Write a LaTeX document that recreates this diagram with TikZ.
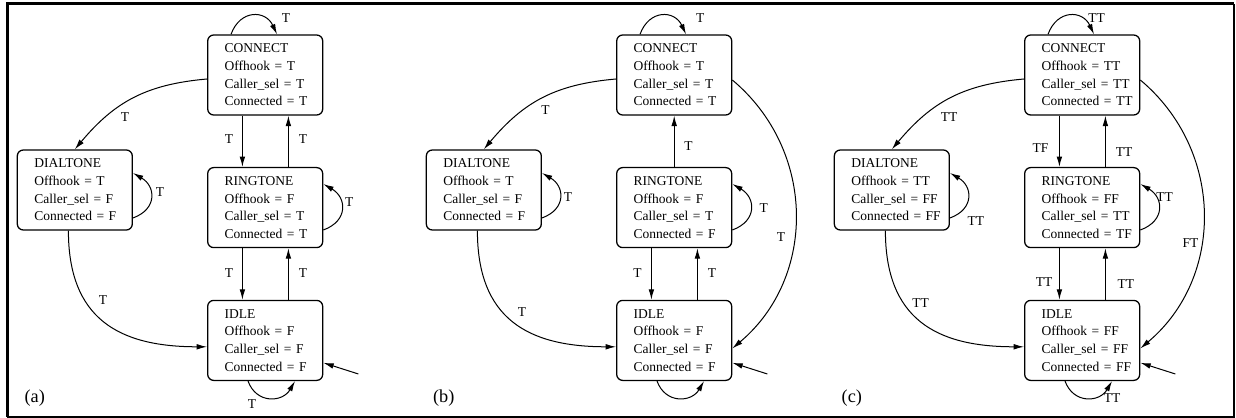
\documentclass[tikz,border=0pt]{standalone}
\usepackage{fontspec}
\setmainfont{Liberation Serif}
\usepackage{tikz}
\usetikzlibrary{calc,positioning,arrows.meta}

\begin{document}
\begin{tikzpicture}[
		state/.style={draw,line width=0.32mm,rounded corners=1.5mm,minimum width=28.75mm,minimum height=20mm,text width=20.25mm,inner xsep=4.25mm,inner ysep=0mm,align=left,font=\fontsize{9.6pt}{12.6pt}\selectfont},
		trans/.style={line width=0.25mm,-{Latex[length=2.6mm,width=1.4mm]}},
		lbl/.style={inner sep=0pt,font=\fontsize{9.6pt}{11pt}\selectfont},
		tag/.style={inner sep=0pt,font=\fontsize{13pt}{15pt}\selectfont}]
				\useasboundingbox (0mm,0mm) rectangle (309mm,104.5mm);
				%\draw[color=gray,step=1mm, help lines,opacity=0.3] (0mm,0mm) grid (309mm,104.5mm); %help grids
				\draw[line width=0.75mm] (1.75mm,0.3mm)--(1.75mm,103.6mm)--(308.5mm,103.6mm);
				\draw[line width=0.45mm] (1.75mm,0.3mm)--(308.5mm,0.3mm)--(308.5mm,103.6mm);

				% (a)
				\node[state] (aconn) at (66.3mm,85.75mm) {CONNECT\\Offhook~=~T\\Caller\_sel~=~T\\Connected~=~T};
				\node[state] (adial) at (18.7mm,57mm) {DIALTONE\\Offhook~=~T\\Caller\_sel~=~F\\Connected~=~F};
				\node[state] (aring) at (66.3mm,52.6mm) {RINGTONE\\Offhook~=~F\\Caller\_sel~=~T\\Connected~=~T};
				\node[state] (aidle) at (66.3mm,19.4mm) {IDLE\\Offhook~=~F\\Caller\_sel~=~F\\Connected~=~F};
				\draw[trans] ([xshift=-8.55mm]aconn.north) to[out=70,in=115,looseness=1.5] ([xshift=2.95mm]aconn.north);
				\draw[trans] ([yshift=-1mm]aconn.west) to[out=185,in=50,looseness=1.05] (adial.north);
				\draw[trans] ([xshift=-5.7mm]aconn.south) -- ([xshift=-5.7mm]aring.north);
				\draw[trans] ([xshift=5.8mm]aring.north) -- ([xshift=5.8mm]aconn.south);
				\draw[trans] ([yshift=-7mm]adial.east) to[out=20,in=-30,looseness=1.5] ([yshift=4.25mm]adial.east);
				\draw[trans] ([yshift=-5.6mm]aring.east) to[out=20,in=-30,looseness=1.5] ([yshift=5.9mm]aring.east);
				\draw[trans] ([xshift=-5.7mm]aring.south) -- ([xshift=-5.7mm]aidle.north);
				\draw[trans] ([xshift=5.8mm]aidle.north) -- ([xshift=5.8mm]aring.south);
				\draw[trans] ([xshift=-1.6mm]adial.south) to[out=-90,in=180,looseness=1.25] ([yshift=-1.6mm]aidle.west);
				\draw[trans] ([xshift=-4.3mm]aidle.south) to[out=-70,in=-120,looseness=1.35] ([xshift=7.45mm]aidle.south);
				\coordinate (ainit) at (89.6mm,11mm);
				\draw[trans] (ainit) -- ([yshift=-5.6mm]aidle.east);
				\node[lbl] (aLcc) at (71.5mm,99.9mm) {T};
				\node[lbl] (aLcd) at (31.25mm,75.25mm) {T};
				\node[lbl] (aLcr) at (57.25mm,69.7mm) {T};
				\node[lbl] (aLrc) at (75.75mm,69.7mm) {T};
				\node[lbl] (aLdd) at (40mm,56.6mm) {T};
				\node[lbl] (aLrr) at (87.3mm,53.9mm) {T};
				\node[lbl] (aLri) at (57.25mm,36.3mm) {T};
				\node[lbl] (aLir) at (75.75mm,36.3mm) {T};
				\node[lbl] (aLdi) at (25.75mm,29.5mm) {T};
				\node[lbl] (aLii) at (63mm,3.4mm) {T};
				\node[tag] (atag) at (8.7mm,5mm) {(a)};

				% (b)
				\begin{scope}[xshift=102.25mm]
				\node[state] (bconn) at (66.3mm,85.75mm) {CONNECT\\Offhook~=~T\\Caller\_sel~=~T\\Connected~=~T};
				\node[state] (bdial) at (18.7mm,57mm) {DIALTONE\\Offhook~=~T\\Caller\_sel~=~F\\Connected~=~F};
				\node[state] (bring) at (66.3mm,52.6mm) {RINGTONE\\Offhook~=~F\\Caller\_sel~=~T\\Connected~=~F};
				\node[state] (bidle) at (66.3mm,19.4mm) {IDLE\\Offhook~=~F\\Caller\_sel~=~F\\Connected~=~F};
				\draw[trans] ([xshift=-8.55mm]bconn.north) to[out=70,in=115,looseness=1.5] ([xshift=2.95mm]bconn.north);
				\draw[trans] ([yshift=-1mm]bconn.west) to[out=185,in=50,looseness=1.05] (bdial.north);
				\draw[trans] (bring.north) -- (bconn.south);
				\draw[trans] ([yshift=-7mm]bdial.east) to[out=20,in=-30,looseness=1.5] ([yshift=4.25mm]bdial.east);
				\draw[trans] ([yshift=-5.6mm]bring.east) to[out=20,in=-30,looseness=1.5] ([yshift=5.9mm]bring.east);
				\draw[trans] ([xshift=-5.7mm]bring.south) -- ([xshift=-5.7mm]bidle.north);
				\draw[trans] ([xshift=5.8mm]bidle.north) -- ([xshift=5.8mm]bring.south);
				\draw[trans] ([xshift=-1.6mm]bdial.south) to[out=-90,in=180,looseness=1.25] ([yshift=-1.6mm]bidle.west);
				\draw[trans] ([yshift=-1.25mm]bconn.east) to[out=-40,in=40,looseness=1.05] ([yshift=-2mm]bidle.east);
				\draw[trans] ([xshift=-4.3mm]bidle.south) to[out=-70,in=-120,looseness=1.35] ([xshift=7.45mm]bidle.south);
				\coordinate (binit) at (89.6mm,11mm);
				\draw[trans] (binit) -- ([yshift=-5.6mm]bidle.east);
				\node[lbl] (bLcc) at (72.8mm,99.9mm) {T};
				\node[lbl] (bLcd) at (34.1mm,77mm) {T};
				\node[lbl] (bLrc) at (69.9mm,68.1mm) {T};
				\node[lbl] (bLdd) at (39.75mm,55.2mm) {T};
				\node[lbl] (bLrr) at (88.7mm,52.4mm) {T};
				\node[lbl] (bLri) at (57.1mm,36.3mm) {T};
				\node[lbl] (bLir) at (75.75mm,36.3mm) {T};
				\node[lbl] (bLdi) at (28.25mm,26.4mm) {T};
				\node[lbl] (bLci) at (93mm,45.2mm) {T};
				\node[tag] (btag) at (8.7mm,5mm) {(b)};
				\end{scope}

				% (c)
				\begin{scope}[xshift=204.25mm]
				\node[state] (cconn) at (66.3mm,85.75mm) {CONNECT\\Offhook~=~TT\\Caller\_sel~=~TT\\Connected~=~TT};
				\node[state] (cdial) at (18.7mm,57mm) {DIALTONE\\Offhook~=~TT\\Caller\_sel~=~FF\\Connected~=~FF};
				\node[state] (cring) at (66.3mm,52.6mm) {RINGTONE\\Offhook~=~FF\\Caller\_sel~=~TT\\Connected~=~TF};
				\node[state] (cidle) at (66.3mm,19.4mm) {IDLE\\Offhook~=~FF\\Caller\_sel~=~FF\\Connected~=~FF};
				\draw[trans] ([xshift=-8.55mm]cconn.north) to[out=70,in=115,looseness=1.5] ([xshift=2.95mm]cconn.north);
				\draw[trans] ([yshift=-1mm]cconn.west) to[out=185,in=50,looseness=1.05] (cdial.north);
				\draw[trans] ([xshift=-5.7mm]cconn.south) -- ([xshift=-5.7mm]cring.north);
				\draw[trans] ([xshift=5.8mm]cring.north) -- ([xshift=5.8mm]cconn.south);
				\draw[trans] ([yshift=-7mm]cdial.east) to[out=20,in=-30,looseness=1.5] ([yshift=4.25mm]cdial.east);
				\draw[trans] ([yshift=-5.6mm]cring.east) to[out=20,in=-30,looseness=1.5] ([yshift=5.9mm]cring.east);
				\draw[trans] ([xshift=-5.7mm]cring.south) -- ([xshift=-5.7mm]cidle.north);
				\draw[trans] ([xshift=5.8mm]cidle.north) -- ([xshift=5.8mm]cring.south);
				\draw[trans] ([xshift=-1.6mm]cdial.south) to[out=-90,in=180,looseness=1.25] ([yshift=-1.6mm]cidle.west);
				\draw[trans] ([yshift=-1.25mm]cconn.east) to[out=-40,in=40,looseness=1.05] ([yshift=-2mm]cidle.east);
				\draw[trans] ([xshift=-4.3mm]cidle.south) to[out=-70,in=-120,looseness=1.35] ([xshift=7.45mm]cidle.south);
				\coordinate (cinit) at (89.6mm,11mm);
				\draw[trans] (cinit) -- ([yshift=-5.6mm]cidle.east);
				\node[lbl] (cLcc) at (69.9mm,99.9mm) {TT};
				\node[lbl] (cLcd) at (33mm,75.3mm) {TT};
				\node[lbl] (cLcr) at (55.9mm,67.4mm) {TF};
				\node[lbl] (cLrc) at (76.75mm,66.6mm) {TT};
				\node[lbl] (cLdd) at (39.7mm,49.3mm) {TT};
				\node[lbl] (cLrr) at (86.9mm,55.2mm) {TT};
				\node[lbl] (cLri) at (56.75mm,33.9mm) {TT};
				\node[lbl] (cLir) at (77.2mm,33.4mm) {TT};
				\node[lbl] (cLdi) at (25.9mm,28.7mm) {TT};
				\node[lbl] (cLci) at (93.4mm,43.8mm) {FT};
				\node[lbl] (cLii) at (73.8mm,4.9mm) {TT};
				\node[tag] (ctag) at (8.7mm,5mm) {(c)};
				\end{scope}
\end{tikzpicture}
\end{document}
